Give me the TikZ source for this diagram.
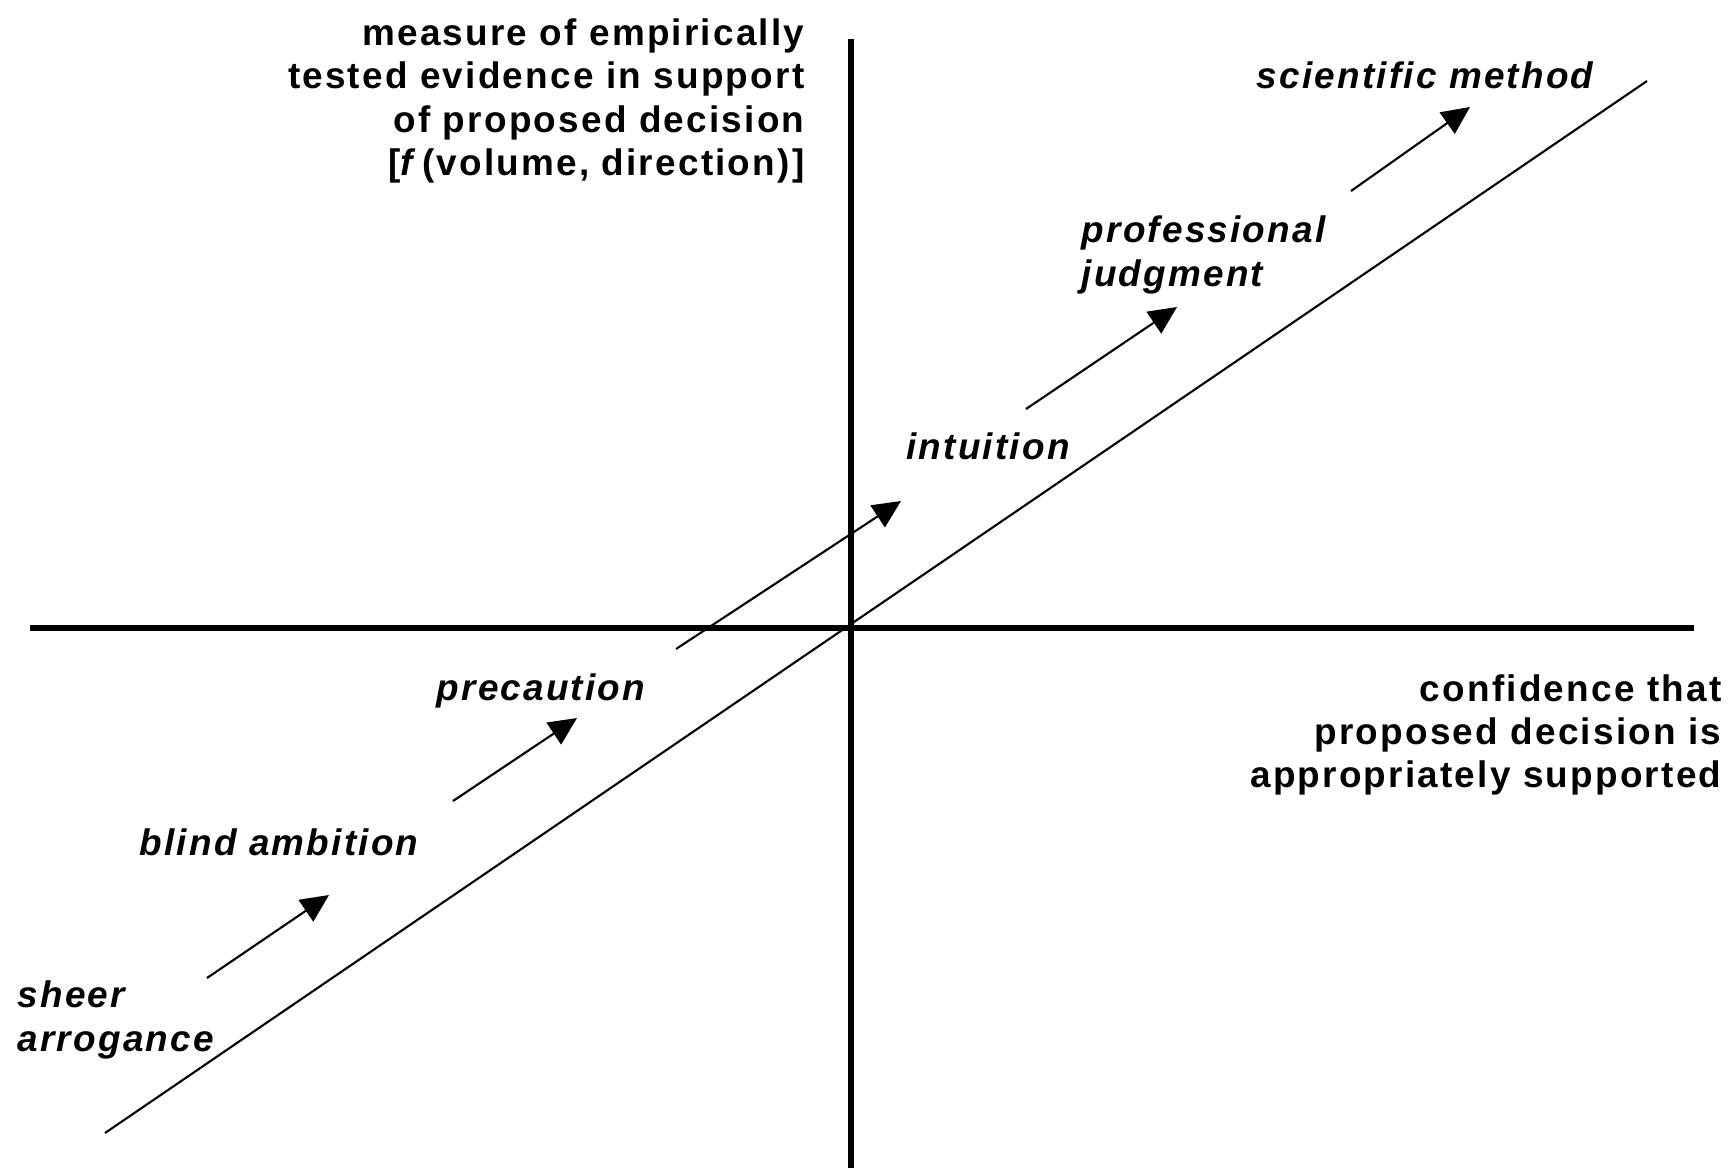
\documentclass[tikz,border=0pt]{standalone}
\usepackage{fontspec}
\setmainfont{Liberation Sans}[LetterSpace=6]
\usetikzlibrary{arrows.meta}

\begin{document}
\begin{tikzpicture}[
    axis/.style={line width=1.5pt},
    diag/.style={line width=0.6pt},
    trend/.style={-{Triangle[length=0.28cm, width=0.26cm]}, line width=0.6pt},
    axlabel/.style={font=\fontsize{10.5}{12.3}\selectfont\bfseries, align=right, inner sep=0pt},
    stage/.style={font=\fontsize{10.5}{12.3}\selectfont\bfseries\itshape, align=left, inner sep=0pt}
]
    \useasboundingbox (0,0) rectangle (17.33,11.68);

    % Axes
    \coordinate (origin) at (8.51,5.40);
    \draw[axis] (8.51,0) -- (8.51,11.29);
    \draw[axis] (0.30,5.40) -- (16.94,5.40);
    \node[axlabel, anchor=east] (ylabel) at (8.05,10.67) {measure of empirically\\tested evidence in support\\of proposed decision\\{[}\textit{f}\kern1pt(volume, direction)]};
    \node[axlabel, anchor=east] (xlabel) at (17.22,4.33) {confidence that\\proposed decision is\\appropriately supported};

    % Diagonal
    \draw[diag] (1.05,0.35) -- (16.47,10.87);

    % Stages
    \node[stage, anchor=west] (sheer) at (0.17,1.48) {sheer\\arrogance};
    \node[stage] (blind) at (2.79,3.26) {blind ambition};
    \node[stage] (precaution) at (5.41,4.77) {precaution};
    \node[stage] (intuition) at (9.88,7.22) {intuition};
    \node[stage, anchor=west] (professional) at (10.81,9.13) {professional\\judgment};
    \node[stage] (scientific) at (14.25,10.93) {scientific method};

    % Arrows
    \coordinate (a1) at (2.07,1.90);  \coordinate (b1) at (3.29,2.73);
    \coordinate (a2) at (4.53,3.67);  \coordinate (b2) at (5.77,4.50);
    \coordinate (a3) at (6.76,5.19);  \coordinate (b3) at (9.01,6.67);
    \coordinate (a4) at (10.26,7.59); \coordinate (b4) at (11.77,8.61);
    \coordinate (a5) at (13.51,9.77); \coordinate (b5) at (14.70,10.61);
    \foreach \i in {1,...,5}
        \draw[trend] (a\i) -- (b\i);
\end{tikzpicture}
\end{document}
